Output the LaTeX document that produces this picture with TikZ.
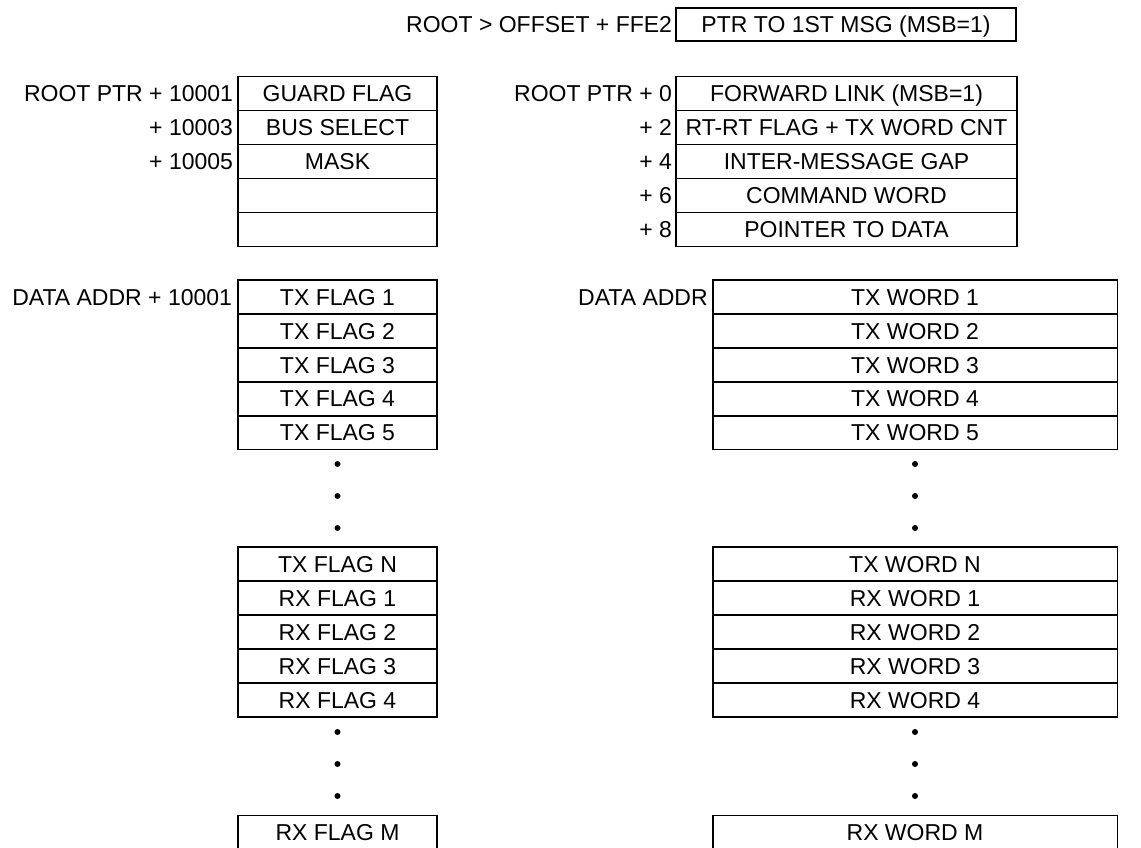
\documentclass[tikz,border=0pt]{standalone}
\usepackage{fontspec}
\setmainfont{Liberation Sans}
\begin{document}
\begin{tikzpicture}[x=1pt,y=-1pt,
  txt/.style={font=\fontsize{23}{27}\selectfont},
  cell/.style={txt, draw, line width=1.6pt, inner sep=0pt, text height=16.5pt, text depth=0pt, minimum height=34pt, anchor=center},
  narrowcell/.style={cell, minimum width=199pt},
  widecell/.style={cell, minimum width=404.6pt},
  rootcell/.style={cell, minimum width=341pt},
  addr/.style={txt, inner sep=0pt, text height=16.5pt, text depth=0pt, anchor=east},
  dot/.style={circle, fill, inner sep=0pt, minimum size=6pt}]
\useasboundingbox (0,0) rectangle (1141,848);

% top pointer
\node[cell, minimum width=340pt, minimum height=33.5pt] (ptr) at (846,24.5) {PTR TO 1ST MSG (MSB=1)};
\node[addr] (ptrlbl) at ([xshift=-3pt]ptr.west) {ROOT > OFFSET + FFE2};

% left root block
\foreach \t [count=\i from 0] in {GUARD FLAG, BUS SELECT, MASK, {}, {}}
  \node[narrowcell] (g\i) at (337.5, 93.5+34*\i) {\t};
\node[addr] (gl0) at ([xshift=-4pt]g0.west) {ROOT PTR + 10001};
\node[addr] (gl1) at ([xshift=-4pt]g1.west) {+ 10003};
\node[addr] (gl2) at ([xshift=-4pt]g2.west) {+ 10005};

% right root block
\foreach \t [count=\i from 0] in {FORWARD LINK (MSB=1), RT-RT FLAG + TX WORD CNT, INTER-MESSAGE GAP, COMMAND WORD, POINTER TO DATA}
  \node[rootcell] (r\i) at (846.5, 93.5+34*\i) {\t};
\node[addr] (rl0) at ([xshift=-3pt]r0.west) {ROOT PTR + 0};
\node[addr] (rl1) at ([xshift=-3pt]r1.west) {+ 2};
\node[addr] (rl2) at ([xshift=-3pt]r2.west) {+ 4};
\node[addr] (rl3) at ([xshift=-3pt]r3.west) {+ 6};
\node[addr] (rl4) at ([xshift=-3pt]r4.west) {+ 8};

% data blocks, first group
\foreach \i in {1,...,5}{
  \node[narrowcell] (tf\i) at (337.5, 263.1+33.9*\i) {TX FLAG \i};
  \node[widecell] (tw\i) at (915, 263.1+33.9*\i) {TX WORD \i};
}
\node[addr] (dl1) at ([xshift=-5pt]tf1.west) {DATA ADDR + 10001};
\node[addr] (dl2) at ([xshift=-4pt]tw1.west) {DATA ADDR};

% dots
\foreach \y [count=\i] in {464,496,528}{
  \node[dot] (ld\i) at (337.5,\y) {};
  \node[dot] (rd\i) at (915,\y) {};
}

% second group
\node[narrowcell] (tfn) at (337.5,564) {TX FLAG N};
\node[widecell] (twn) at (915,564) {TX WORD N};
\foreach \i in {1,...,4}{
  \node[narrowcell] (rf\i) at (337.5, 564+34*\i) {RX FLAG \i};
  \node[widecell] (rw\i) at (915, 564+34*\i) {RX WORD \i};
}
\foreach \y [count=\i] in {732,764,796}{
  \node[dot] (lde\i) at (337.5,\y) {};
  \node[dot] (rde\i) at (915,\y) {};
}
\node[narrowcell] (rfm) at (337.5,832.5) {RX FLAG M};
\node[widecell] (rwm) at (915,832.5) {RX WORD M};
\end{tikzpicture}
\end{document}
